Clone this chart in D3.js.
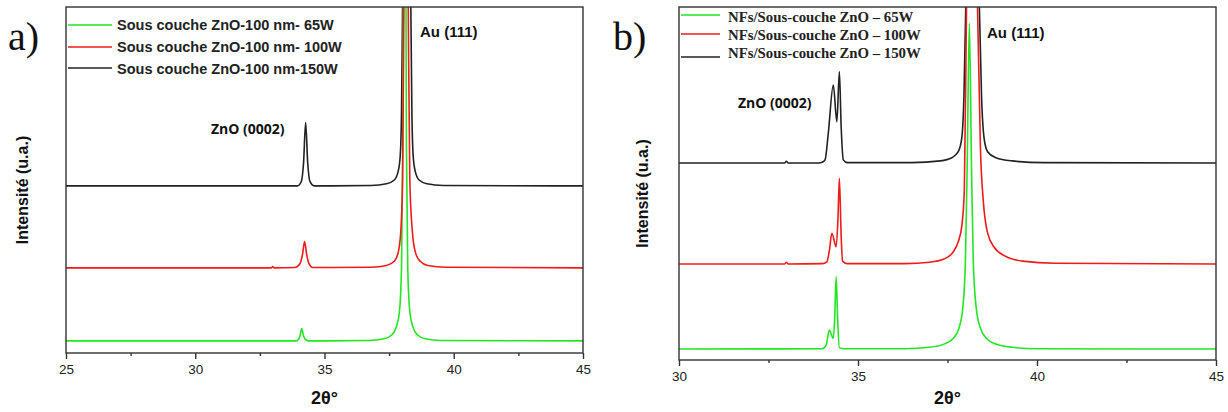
<!DOCTYPE html>
<html>
<head>
<meta charset="utf-8">
<script src="https://cdn.jsdelivr.net/npm/d3@7"></script>
<style>
html,body{margin:0;padding:0;background:#fff;}
svg{display:block;}
</style>
</head>
<body>
<svg id="chart" width="1228" height="412"></svg>
<script>
// ---------- Data (2θ in degrees, intensity in arbitrary units) ----------
const xTicksA = [25, 30, 35, 40, 45];
const xTicksB = [30, 35, 40, 45];

const legendA = ["Sous couche ZnO-100 nm- 65W", "Sous couche ZnO-100 nm- 100W", "Sous couche ZnO-100 nm-150W"];
const legendB = ["NFs/Sous-couche ZnO \u2013 65W", "NFs/Sous-couche ZnO \u2013 100W", "NFs/Sous-couche ZnO \u2013 150W"];
const seriesColors = ["#22e622", "#f01a1a", "#222222"];

// Panel a
const a65 = [[25,3.5],[33.9,3.5],[34.0,4.0],[34.06,5.2],[34.12,7.1],[34.18,5.2],[34.25,4.0],[34.38,3.5],[36.7,3.6],[37.3,4.1],[37.6,5.2],[37.78,7.5],[37.9,12],[37.98,25],[38.03,60],[38.1,200],[38.17,60],[38.22,25],[38.3,12],[38.42,7.5],[38.6,5.2],[38.9,4.1],[39.5,3.6],[45,3.5]];
const a100 = [[25,24.6],[32.95,24.6],[33.0,25.0],[33.05,24.6],[33.85,24.7],[34.05,25.8],[34.15,28.5],[34.23,32.2],[34.31,28.5],[34.4,25.8],[34.55,24.7],[36.8,24.8],[37.4,25.3],[37.7,26.5],[37.85,29],[37.95,35],[38.02,50],[38.07,99],[38.15,200],[38.24,99],[38.3,50],[38.4,35],[38.52,29],[38.7,26.5],[39.0,25.3],[39.7,24.8],[45,24.6]];
const a150 = [[25,48.3],[33.95,48.3],[34.1,49.5],[34.19,55],[34.27,66.6],[34.35,55],[34.44,49.5],[34.6,48.3],[36.8,48.4],[37.4,48.9],[37.7,50],[37.85,52.5],[37.93,57],[37.98,70],[38.02,100],[38.18,180],[38.34,100],[38.38,70],[38.43,57],[38.51,52.5],[38.66,50],[38.96,48.9],[39.6,48.4],[45,48.3]];

// Panel b
const b65 = [[30,3.1],[34.0,3.2],[34.11,4.2],[34.2,8.5],[34.31,6.1],[34.35,12],[34.39,23.6],[34.43,12],[34.48,3.5],[34.6,3.2],[36.3,3.2],[37.0,3.6],[37.4,4.5],[37.65,6],[37.82,9],[37.93,15],[38.0,28],[38.05,55],[38.11,95.4],[38.17,55],[38.22,28],[38.3,15],[38.42,9],[38.6,6],[38.85,4.5],[39.3,3.6],[40.0,3.2],[45,3.1]];
const b100 = [[30,27.2],[32.95,27.2],[33.0,27.7],[33.05,27.2],[34.0,27.3],[34.13,27.8],[34.2,31],[34.27,35.9],[34.39,32.1],[34.44,40],[34.48,51.5],[34.53,35],[34.57,28],[34.7,27.3],[36.3,27.3],[37.0,27.7],[37.4,28.6],[37.65,30.5],[37.8,33.5],[37.9,38],[37.97,48],[38.03,99],[38.18,250],[38.34,99],[38.42,60],[38.5,45],[38.62,36],[38.8,32],[39.1,29.5],[39.6,28],[40.5,27.4],[45,27.2]];
const b150 = [[30,55.8],[32.95,55.8],[33.0,56.3],[33.05,55.8],[33.9,55.8],[34.0,56.0],[34.08,56.7],[34.17,64.2],[34.31,77.9],[34.41,67.5],[34.48,81.7],[34.53,66],[34.59,56.7],[34.7,55.9],[36.5,55.9],[37.3,56.4],[37.62,57.3],[37.8,59],[37.9,63],[37.96,75],[38.01,100],[38.2,250],[38.39,100],[38.45,75],[38.52,63],[38.62,59],[38.85,57.3],[39.3,56.4],[40.2,55.9],[45,55.8]];

// ---------- Drawing ----------
const svg = d3.select("#chart");

function panel(cfg) {
  const {id, left, right, top, bottom, domain, ticks, series, colors, drawOrder, legend, legendFont, legendSize, legendY, legendLineY, legendTextX, legendLineX2, letter, letterX, zno, au, ylabX} = cfg;
  const x = d3.scaleLinear().domain(domain).range([left, right]);
  const y = d3.scaleLinear().domain([0, 100]).range([bottom, top]);

  svg.append("clipPath").attr("id", "clip" + id)
    .append("rect").attr("x", left).attr("y", top).attr("width", right - left).attr("height", bottom - top);

  const line = d3.line().x(d => x(d[0])).y(d => y(d[1])).curve(d3.curveMonotoneX);
  const g = svg.append("g").attr("clip-path", `url(#clip${id})`);
  drawOrder.forEach(i => {
    g.append("path").datum(series[i]).attr("d", line)
      .attr("fill", "none").attr("stroke", colors[i]).attr("stroke-width", 1.6)
      .attr("stroke-linejoin", "round");
  });

  // frame
  svg.append("rect").attr("x", left).attr("y", top).attr("width", right - left).attr("height", bottom - top)
    .attr("fill", "none").attr("stroke", "#333").attr("stroke-width", 1.4);

  // x axis (major + minor ticks, outward)
  const minor = [];
  for (let i = 0; i < ticks.length - 1; i++) minor.push((ticks[i] + ticks[i + 1]) / 2);
  const axMinor = d3.axisBottom(x).tickValues(minor).tickSize(3).tickFormat("");
  const axMajor = d3.axisBottom(x).tickValues(ticks).tickSize(6).tickPadding(5).tickFormat(d3.format("d"));
  const gm = svg.append("g").attr("transform", `translate(0,${bottom})`).call(axMinor);
  const gM = svg.append("g").attr("transform", `translate(0,${bottom})`).call(axMajor);
  [gm, gM].forEach(ga => {
    ga.select(".domain").remove();
    ga.selectAll(".tick line").attr("stroke", "#333").attr("stroke-width", 1.4);
  });
  gM.selectAll(".tick text").attr("font-family", "Liberation Sans, Arial, sans-serif")
    .attr("font-size", 13.5).attr("fill", "#222");

  // axis titles
  svg.append("text").attr("x", (left + right) / 2).attr("y", 404).attr("text-anchor", "middle")
    .attr("font-family", "Liberation Sans, Arial, sans-serif").attr("font-weight", "bold")
    .attr("font-size", 18).attr("fill", "#111").text("2\u03b8\u00b0");
  svg.append("text").attr("transform", `translate(${ylabX},${(top + bottom) / 2 + 10}) rotate(-90)`)
    .attr("text-anchor", "middle")
    .attr("font-family", "Liberation Sans, Arial, sans-serif").attr("font-weight", "bold")
    .attr("font-size", 16).attr("fill", "#111").text("Intensit\u00e9 (u.a.)");

  // legend
  legend.forEach((t, i) => {
    svg.append("line").attr("x1", left + 2).attr("x2", legendLineX2)
      .attr("y1", legendLineY[i]).attr("y2", legendLineY[i])
      .attr("stroke", colors[i]).attr("stroke-width", 1.6);
    svg.append("text").attr("x", legendTextX).attr("y", legendY[i])
      .attr("font-family", legendFont).attr("font-weight", "bold")
      .attr("font-size", legendSize).attr("fill", "#222").text(t);
  });

  // annotations
  svg.append("text").attr("x", zno[0]).attr("y", zno[1])
    .attr("font-family", "Open Sans, Liberation Sans, sans-serif").attr("font-weight", "bold")
    .attr("font-size", 14).attr("fill", "#111").text("ZnO (0002)");
  svg.append("text").attr("x", au[0]).attr("y", au[1])
    .attr("font-family", "Liberation Sans, Arial, sans-serif").attr("font-weight", "bold")
    .attr("font-size", 15).attr("fill", "#111").text("Au (111)");

  // panel letter
  svg.append("text").attr("x", letterX).attr("y", 50)
    .attr("font-family", "Liberation Serif, Times New Roman, serif")
    .attr("font-size", 40).attr("fill", "#111").text(letter);
}

panel({
  id: "a", left: 66, right: 583, top: 7, bottom: 353, domain: [25, 45], ticks: xTicksA,
  series: [a65, a100, a150], colors: seriesColors, drawOrder: [2, 0, 1],
  legend: legendA, legendFont: "Liberation Sans, Arial, sans-serif", legendSize: 14.5,
  legendY: [30, 52, 74], legendLineY: [25, 47, 68], legendTextX: 117, legendLineX2: 112,
  letter: "a)", letterX: 8, zno: [211, 134], au: [420, 37], ylabX: 28
});

panel({
  id: "b", left: 679, right: 1216, top: 7, bottom: 360, domain: [30, 45], ticks: xTicksB,
  series: [b65, b100, b150], colors: seriesColors, drawOrder: [2, 1, 0],
  legend: legendB, legendFont: "Liberation Serif, Times New Roman, serif", legendSize: 14.8,
  legendY: [22, 40, 58], legendLineY: [15, 34, 57], legendTextX: 728, legendLineX2: 720,
  letter: "b)", letterX: 613, zno: [738, 108], au: [987, 38], ylabX: 648
});
</script>
</body>
</html>
